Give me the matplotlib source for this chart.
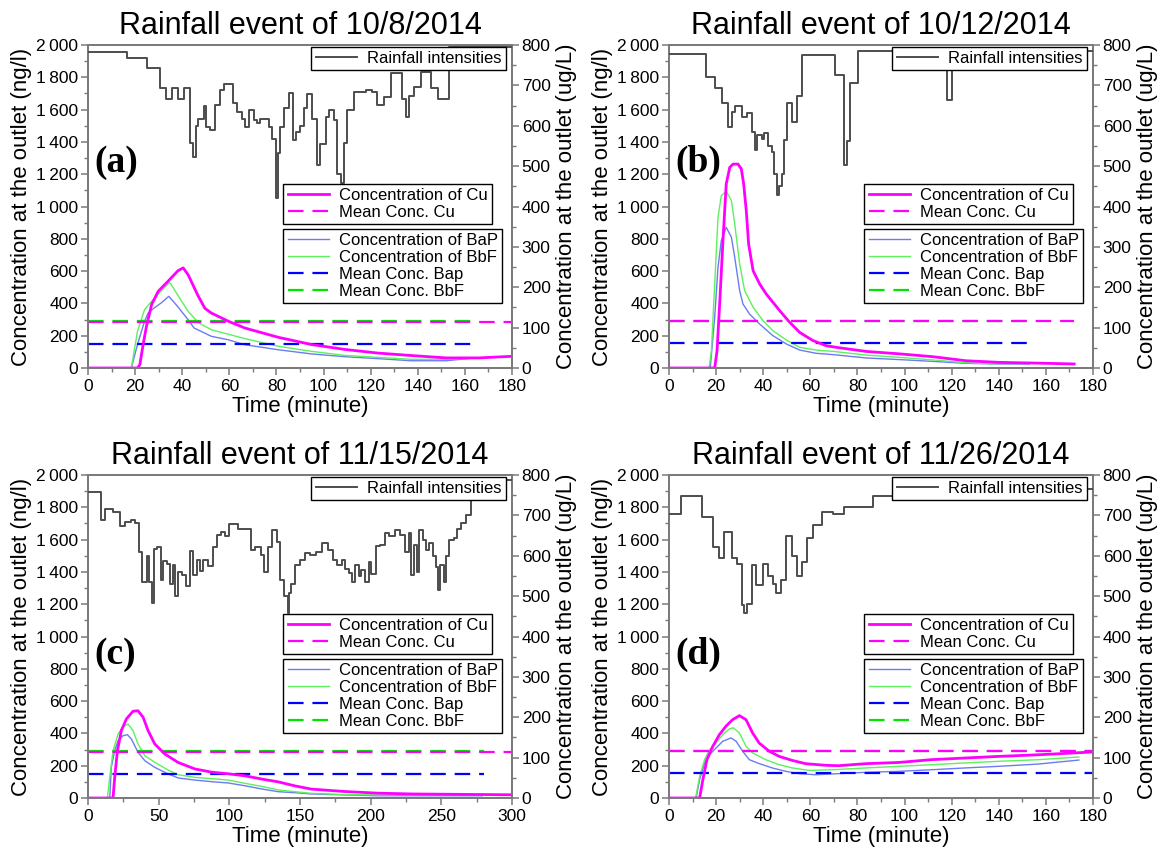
import numpy as np
import matplotlib
matplotlib.use("Agg")
import matplotlib.pyplot as plt
from matplotlib.ticker import MultipleLocator, FuncFormatter
from matplotlib.lines import Line2D

plt.rcParams['font.family'] = ['Liberation Sans', 'DejaVu Sans']

# ---------------------------------------------------------------- event titles
titles = ["Rainfall event of 10/8/2014", "Rainfall event of 10/12/2014",
          "Rainfall event of 11/15/2014", "Rainfall event of 11/26/2014"]
panel_tags = ["(a)", "(b)", "(c)", "(d)"]
x_max = [180, 180, 300, 180]

# ---------------------------------------------------------------- rainfall (mm/h, step starts in minutes)
rain_t_a = [0, 16.5, 25.0, 30.4, 33.2, 35.6, 38.4, 40.9, 43.4, 44.5, 45.7, 46.9, 49.1, 50.2, 51.9,
            53.8, 55.9, 57.6, 61.6, 63.3, 65.4, 66.8, 68.5, 70.3, 71.8, 73.2, 76.7, 78.2, 79.6,
            80.6, 81.4, 83.1, 85.2, 87.1, 88.5, 90.2, 91.6, 93.0, 95.2, 97.3, 98.4, 100.9, 102.3,
            104.4, 105.8, 107.2, 108.7, 110.1, 112.9, 117.9, 120.7, 122.8, 125.7, 128.5, 133.5,
            134.9, 136.3, 138.4, 141.3, 145.5, 148.4, 153.1]
rain_a = [1.1, 2.0, 3.6, 6.6, 8.3, 6.6, 8.4, 6.6, 15.2, 17.4, 12.5, 11.4, 9.5, 12.7, 13.1,
          9.3, 7.0, 6.0, 9.0, 10.3, 11.4, 12.7, 10.1, 11.6, 12.1, 11.4, 12.7, 14.6, 23.7,
          16.7, 12.7, 9.8, 7.5, 14.7, 13.4, 12.5, 9.8, 7.6, 11.4, 18.6, 15.3, 11.2, 10.1,
          11.6, 19.9, 21.4, 15.2, 10.1, 7.3, 7.0, 7.2, 9.3, 8.0, 4.4, 8.3,
          11.2, 7.9, 6.5, 4.2, 6.7, 8.3, 0.3]

rain_t_b = [0, 15.7, 19.5, 22.4, 24.9, 26.6, 28.0, 30.8, 33.0, 35.1, 36.5, 37.5, 39.3, 40.3,
            42.2, 43.6, 44.7, 45.7, 46.8, 47.8, 48.8, 50.2, 52.3, 54.2, 56.5, 70.5, 74.4, 75.4,
            76.8, 80.4, 117.9, 120.0]
rain_b = [1.4, 4.9, 6.7, 9.0, 12.7, 10.3, 9.4, 11.2, 10.6, 13.4, 16.3, 13.9, 14.5, 13.6,
          15.7, 16.5, 19.9, 23.2, 21.8, 19.9, 14.7, 9.0, 11.9, 7.9, 1.6, 4.6, 18.6, 14.8,
          5.9, 0.9, 8.5, 0.9]

rain_t_c = [0, 9.0, 12.3, 17.7, 22.5, 26.0, 30.7, 33.6, 36.2, 38.3,
            41.4, 43.3, 45.4, 46.8, 48.5, 51.5, 53.4, 55.6, 57.9, 59.8,
            61.9, 63.8, 66.2, 69.0, 72.1, 74.5, 76.8, 79.2, 81.6, 85.1,
            88.2, 91.0, 94.1, 96.9, 99.8, 106.4, 115.4, 118.2, 122.5, 124.3,
            127.2, 130.5, 134.0, 135.9, 139.0, 141.4, 142.3, 143.7, 146.6, 150.1,
            153.7, 157.2, 161.2, 165.5, 169.7, 173.0, 176.1, 179.7, 182.0, 184.4,
            186.8, 189.1, 191.5, 193.4, 195.7, 198.6, 200.5, 204.0, 206.9, 209.9,
            213.2, 217.5, 221.0, 224.1, 227.0, 228.8, 230.5, 232.9, 234.5, 236.9,
            239.2, 241.1, 244.0, 245.9, 247.8, 249.4, 251.8, 253.0, 255.3, 258.9,
            260.8, 263.6, 267.1, 270.7, 271.9, 275.0]
rain_c = [2.7, 6.9, 5.2, 5.7, 7.9, 7.2, 7.0, 7.5, 11.9, 16.5,
          12.5, 16.5, 19.8, 11.4, 11.1, 16.2, 13.3, 13.7, 16.8, 13.9,
          18.8, 15.0, 15.5, 17.2, 11.7, 15.5, 13.2, 14.8, 13.2, 14.1,
          11.1, 9.3, 8.8, 9.4, 7.6, 8.3, 11.6, 11.1, 12.4, 15.0,
          11.1, 8.5, 10.3, 16.3, 18.8, 21.4, 18.3, 16.8, 13.9, 13.2,
          12.0, 12.4, 11.9, 10.5, 11.6, 13.2, 13.9, 13.1, 14.5, 15.2,
          16.5, 13.9, 15.7, 14.7, 16.5, 13.4, 15.4, 11.0, 10.8, 9.0,
          9.4, 8.5, 9.3, 11.9, 9.0, 15.5, 10.8, 15.0, 8.5, 10.1,
          11.6, 10.6, 12.6, 14.2, 17.8, 13.9, 16.5, 12.6, 10.1, 9.8,
          8.3, 7.5, 6.2, 3.9, 2.8, 0.8]

rain_t_d = [0, 5.1, 14.1, 18.8, 21.2, 23.5, 26.9, 28.7, 31.1, 32.0, 33.2, 35.1, 36.9, 40.0,
            42.2, 44.0, 45.4, 47.4, 49.5, 52.3, 54.5, 56.3, 58.4, 61.3, 65.1, 69.7, 74.4,
            80.4, 86.4, 95.2]
rain_d = [6.1, 3.2, 6.5, 11.1, 12.8, 8.9, 12.8, 13.8, 20.1, 21.4, 20.0, 14.0, 17.1, 13.8,
          15.6, 16.9, 18.3, 16.2, 9.4, 12.5, 15.6, 13.4, 9.7, 7.7, 5.8, 6.0, 4.9,
          5.0, 3.3, 2.1]

# ---------------------------------------------------------------- BaP (ng/l)
bap_t_a = [0, 18.4, 21, 24, 25.5, 28, 31, 34.3, 38, 42.5, 45, 52.4, 59.5, 66.6, 80.8, 95,
           109, 123, 137, 152, 164]
bap_a = [0, 0, 145, 289, 340, 371, 402, 444, 382, 299, 248, 196, 175, 144, 113, 87,
         70, 58, 45, 45, 62]
bap_t_b = [0, 17.5, 19.4, 20.8, 22.2, 24.3, 26.5, 27.9, 30, 31.4, 34.2, 38.5, 44.1, 49.8,
           55.5, 62.5, 69.6, 83.8, 97.9, 112, 126, 140, 153]
bap_b = [0, 0, 314, 623, 788, 871, 809, 685, 479, 396, 334, 272, 200, 149,
         111, 91, 83, 62, 52, 41, 29, 25, 25]
bap_t_c = [0, 15.4, 16.5, 18.9, 21.3, 24.8, 27.9, 30.7, 35.4, 40.2, 47.2, 56.7, 63.8, 75.6,
           87.4, 99.2, 111, 122.8, 134.6, 146.4, 158, 182, 205, 240, 279]
bap_c = [0, 0, 190, 293, 355, 386, 392, 365, 283, 231, 190, 149, 124, 111,
         101, 93, 76, 56, 39, 33, 25, 19, 14, 14, 14]
bap_t_d = [0, 11.5, 13, 15.1, 17.2, 20, 22.8, 26.3, 28.5, 31.3, 34.1, 38.3, 43.9, 49.6,
           55.2, 62.3, 69.3, 83.4, 97.5, 111.5, 125.6, 139.7, 156.6, 174]
bap_d = [0, 0, 114, 217, 268, 310, 351, 372, 351, 289, 237, 213, 186, 165,
         151, 144, 149, 159, 165, 175, 186, 196, 210, 235]

# ---------------------------------------------------------------- BbF (ng/l)
bbf_t_a = [0, 18.4, 21, 24, 27, 31, 34.7, 38, 42.5, 47, 52.4, 66.6, 81, 95, 109, 123, 137,
           152, 160]
bbf_a = [0, 0, 227, 361, 413, 475, 530, 454, 351, 279, 237, 182, 134, 103, 78, 66, 54,
         54, 58]
bbf_t_b = [0, 17, 18, 19.4, 20.8, 22.2, 24.3, 26.5, 27.9, 30, 32.1, 35.7, 39.9, 44.1, 49.8,
           55.5, 62.5, 69.6, 83.8, 97.9, 112, 126, 138]
bbf_b = [0, 0, 107, 520, 933, 1067, 1094, 1036, 892, 644, 479, 376, 293, 231, 173,
         128, 111, 103, 80, 66, 50, 33, 25]
bbf_t_c = [0, 13.7, 15.4, 17.7, 21.3, 24.8, 28.3, 31.9, 35.4, 40.2, 47.2, 56.7, 63.8, 75.6,
           87.4, 99.2, 111, 122.8, 134.6, 146.4, 158, 182, 205, 279]
bbf_c = [0, 0, 128, 293, 396, 442, 458, 417, 334, 262, 221, 173, 144, 128,
         120, 111, 91, 72, 50, 39, 29, 21, 19, 21]
bbf_t_d = [0, 11.3, 13, 15.1, 17.2, 20, 22.8, 25.6, 27.3, 29.9, 32.7, 35.5, 41.1, 46.8,
           52.4, 59.4, 69.3, 83.4, 97.5, 111.5, 125.6, 139.7, 156.6, 174]
bbf_d = [0, 0, 134, 237, 299, 341, 392, 427, 435, 402, 320, 279, 237, 206,
         186, 171, 175, 186, 196, 206, 217, 227, 237, 254]

# ---------------------------------------------------------------- Cu (ug/L)
cu_t_a = [0, 21, 22, 23.4, 24.8, 27, 29.8, 34, 38.2, 40.4, 42.5, 46.8, 49.6, 52.4, 59.5,
          66.6, 80.8, 95, 109, 123, 137, 152, 166, 180]
cu_a = [0, 0, 8, 58, 103, 157, 190, 215, 241, 248, 231, 178, 148, 136, 116,
        99, 76, 58, 46, 37, 31, 25, 25, 29]
cu_t_b = [0, 19.4, 20.4, 21.5, 22.9, 24.3, 25.8, 27.2, 29.3, 30.7, 31.7, 32.8, 33.8, 35.7,
          38.5, 41.3, 47.0, 50.8, 55.5, 61.1, 66.8, 72.4, 83.8, 97.9, 112, 126, 140, 157, 172]
cu_b = [0, 0, 43, 158, 315, 456, 497, 505, 505, 493, 456, 390, 307, 241,
        208, 183, 142, 116, 88, 68, 55, 50, 41, 35, 28, 18, 14, 12, 10]
cu_t_c = [0, 17.7, 18.9, 20.8, 23.6, 27.2, 31.9, 35.4, 39, 42.5, 47.2, 54.3, 63.8, 75.6,
          87.4, 99.2, 111, 122.8, 134.6, 146.4, 158, 182, 205, 229, 300]
cu_c = [0, 0, 51, 117, 167, 196, 215, 216, 200, 167, 134, 109, 88, 72,
        64, 60, 55, 47, 40, 30, 22, 16, 12, 10, 8]
cu_t_d = [0, 13, 14.4, 16.1, 18.6, 21.4, 24.2, 27, 29.9, 32.7, 35.5, 38.3, 42.5, 46.8,
          52.4, 58, 66.5, 72.1, 83.4, 97.5, 111.5, 125.6, 139.7, 156.6, 180]
cu_d = [0, 0, 46, 95, 128, 157, 178, 194, 204, 194, 161, 136, 116, 103,
        93, 85, 81, 80, 85, 88, 95, 99, 103, 107, 114]

# ---------------------------------------------------------------- event means and their time spans
mean_bap = [150, 152, 149, 152]          # ng/l
mean_bbf = [293, 292, 290, 290]          # ng/l
mean_cu = [115, 116, 114, 116]           # ug/L
mean_pah_end = [165, 153, 280, 180]      # minutes
mean_cu_end = [180, 172, 300, 180]       # minutes

rain_series = [(rain_t_a, rain_a), (rain_t_b, rain_b), (rain_t_c, rain_c), (rain_t_d, rain_d)]
bap_series = [(bap_t_a, bap_a), (bap_t_b, bap_b), (bap_t_c, bap_c), (bap_t_d, bap_d)]
bbf_series = [(bbf_t_a, bbf_a), (bbf_t_b, bbf_b), (bbf_t_c, bbf_c), (bbf_t_d, bbf_d)]
cu_series = [(cu_t_a, cu_a), (cu_t_b, cu_b), (cu_t_c, cu_c), (cu_t_d, cu_d)]

# ---------------------------------------------------------------- styles
C_RAIN = "#4d4d4d"
C_CU = "#ff00ff"
C_BAP = "#6b7bf2"
C_BBF = "#5ef05e"
C_BAP_MEAN = "#0000ff"
C_BBF_MEAN = "#00e600"
SPINE = "#7a7a7a"
DASH = (7, 4)


def thousands(v, pos):
    return f"{int(round(v)):,}".replace(",", "\u2009")


fig = plt.figure(figsize=(11.66, 8.47), dpi=100)
W, H = 1166, 847
boxes = [(88, 45), (669, 45), (88, 475), (669, 475)]
aw, ah = 424, 323

for i in range(4):
    x0, y0 = boxes[i]
    ax = fig.add_axes([x0 / W, 1 - (y0 + ah) / H, aw / W, ah / H])
    ax_r = ax.twinx()
    ax_rain = ax.twinx()
    xm = x_max[i]

    # PAH concentrations on the left scale
    t, v = bap_series[i]
    ax.plot(t, v, color=C_BAP, lw=1.0)
    t, v = bbf_series[i]
    ax.plot(t, v, color=C_BBF, lw=1.0)
    ax.hlines(mean_bap[i], 0, mean_pah_end[i], colors=C_BAP_MEAN, lw=1.6,
              linestyles=[(0, DASH)])
    ax.hlines(mean_bbf[i], 0, mean_pah_end[i], colors=C_BBF_MEAN, lw=1.6,
              linestyles=[(0, DASH)])

    # copper on the right scale
    t, v = cu_series[i]
    ax_r.plot(t, v, color=C_CU, lw=2.0)
    ax_r.hlines(mean_cu[i], 0, mean_cu_end[i], colors=C_CU, lw=1.6,
                linestyles=[(0, DASH)])

    # hyetograph hanging from the top
    t, v = rain_series[i]
    ax_rain.plot(list(t) + [xm], list(v) + [v[-1]], color=C_RAIN, lw=1.4,
                 drawstyle="steps-post")
    ax_rain.set_ylim(50, 0)
    ax_rain.axis("off")

    ax.set_xlim(0, xm)
    ax.set_ylim(0, 2000)
    ax_r.set_ylim(0, 800)

    ax.xaxis.set_major_locator(MultipleLocator(50 if xm == 300 else 20))
    ax.xaxis.set_minor_locator(MultipleLocator(25 if xm == 300 else 10))
    ax.yaxis.set_major_locator(MultipleLocator(200))
    ax.yaxis.set_minor_locator(MultipleLocator(100))
    ax.yaxis.set_major_formatter(FuncFormatter(thousands))
    ax_r.yaxis.set_major_locator(MultipleLocator(100))
    ax_r.yaxis.set_minor_locator(MultipleLocator(50))

    for a in (ax, ax_r):
        for s in a.spines.values():
            s.set_color(SPINE)
            s.set_linewidth(1.3)
        a.tick_params(which="major", direction="out", length=5, width=1.1,
                      color=SPINE, labelsize=12.5, pad=2)
        a.tick_params(which="minor", direction="out", length=3, width=1.0, color=SPINE)
    ax.tick_params(axis="x", pad=3)

    ax.set_xlabel("Time (minute)", fontsize=16, labelpad=1)
    ax.set_ylabel("Concentration at the outlet (ng/l)", fontsize=16, labelpad=3)
    ax_r.set_ylabel("Concentration at the outlet (ug/L)", fontsize=16, labelpad=4)
    ax.set_title(titles[i], fontsize=22, pad=8)

    ty = 0.635 if i < 2 else 0.443
    ax.text(0.015, ty, panel_tags[i], transform=ax.transAxes, fontsize=27,
            fontweight="bold", family=["Liberation Serif", "DejaVu Serif"],
            va="center", ha="left")

    # legends
    common = dict(fontsize=12, frameon=True, fancybox=False, edgecolor="black",
                  framealpha=1, borderpad=0.25, labelspacing=0.12, handlelength=2.5,
                  handletextpad=0.6, borderaxespad=0, bbox_transform=ax.transAxes,
                  loc="upper left")
    h_rain = [Line2D([], [], color=C_RAIN, lw=1.4)]
    leg1 = ax_rain.legend(h_rain, ["Rainfall intensities"],
                          bbox_to_anchor=(0.527, 0.994), **common)
    h_cu = [Line2D([], [], color=C_CU, lw=2.0),
            Line2D([], [], color=C_CU, lw=1.6, dashes=DASH)]
    leg2 = ax_rain.legend(h_cu, ["Concentration of Cu", "Mean Conc. Cu"],
                          bbox_to_anchor=(0.461, 0.57), **common)
    h_pah = [Line2D([], [], color=C_BAP, lw=1.0),
             Line2D([], [], color=C_BBF, lw=1.0),
             Line2D([], [], color=C_BAP_MEAN, lw=1.6, dashes=DASH),
             Line2D([], [], color=C_BBF_MEAN, lw=1.6, dashes=DASH)]
    leg3 = ax_rain.legend(h_pah, ["Concentration of BaP", "Concentration of BbF",
                                  "Mean Conc. Bap", "Mean Conc. BbF"],
                          bbox_to_anchor=(0.461, 0.43), **common)
    for lg in (leg1, leg2, leg3):
        lg.get_frame().set_linewidth(1.0)
    ax_rain.add_artist(leg1)
    ax_rain.add_artist(leg2)

fig.savefig("out.png", dpi=100)
